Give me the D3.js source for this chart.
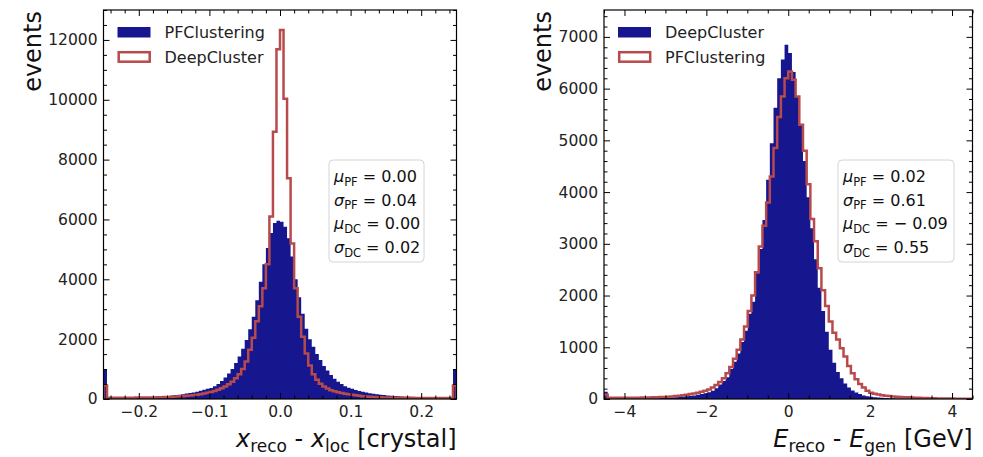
<!DOCTYPE html>
<html><head><meta charset="utf-8">
<script src="https://cdn.jsdelivr.net/npm/d3@7"></script>
<style>
body{margin:0;background:#fff}
text{font-family:"DejaVu Sans",sans-serif}
</style>
</head><body>
<svg id="c" width="983" height="457"></svg>
<script>
// ---------- DATA ----------
// Left panel: position residual, 100 bins over [-0.25, 0.25]
const posBinRange = [-0.25, 0.25];
const posPF = [
 1000, 42, 40, 41, 42, 42, 43, 45, 45, 48,
 50, 53, 57, 62, 68, 75, 82, 90, 100, 115,
 130, 145, 160, 180, 200, 220, 245, 275, 310, 340,
 370, 430, 500, 600, 720, 850, 1000, 1200, 1420, 1680,
 1970, 2330, 2750, 3300, 3920, 4500, 5050, 5550, 5880, 5960,
 5920, 5760, 5370, 4760, 4000, 3400, 2850, 2350, 2000, 1750,
 1500, 1300, 1100, 950, 800, 680, 580, 500, 430, 380,
 340, 300, 270, 240, 215, 195, 175, 160, 145, 132,
 120, 110, 100, 92, 85, 78, 72, 66, 62, 58,
 55, 52, 50, 48, 46, 44, 43, 42, 40, 1000];
const posDC = [
 450, 42, 40, 40, 42, 42, 43, 44, 45, 46,
 47, 48, 50, 52, 54, 57, 60, 63, 68, 74,
 80, 88, 95, 105, 115, 128, 142, 160, 180, 205,
 235, 270, 310, 360, 420, 490, 580, 690, 830, 1000,
 1250, 1650, 2050, 2600, 3100, 3700, 4500, 6100, 8930, 11690,
 12330, 10030, 7375, 5200, 3700, 2750, 2080, 1520, 1120, 830,
 640, 510, 420, 350, 295, 255, 225, 200, 175, 155,
 138, 122, 108, 95, 82, 72, 65, 60, 55, 51,
 48, 46, 44, 42, 41, 40, 39, 38, 37, 36,
 35, 35, 34, 34, 33, 33, 32, 32, 32, 450];
const posXTicks = [-0.2, -0.1, 0.0, 0.1, 0.2];
const posXTickLabels = ["\u22120.2", "\u22120.1", "0.0", "0.1", "0.2"];
const posYTicks = [0, 2000, 4000, 6000, 8000, 10000, 12000];
const posLegend = ["PFClustering", "DeepCluster"];
const posStats = [["\u03bc","PF","0.00"],["\u03c3","PF","0.04"],["\u03bc","DC","0.00"],["\u03c3","DC","0.02"]];

// Right panel: energy residual, 100 bins over [-4.5, 4.5]
const enBinRange = [-4.5, 4.5];
const enDC = [
 140, 5, 5, 6, 6, 7, 7, 8, 9, 10,
 11, 12, 13, 14, 16, 18, 21, 25, 29, 34,
 40, 47, 55, 62, 70, 80, 95, 110, 130, 160,
 210, 280, 350, 420, 580, 720, 880, 1100, 1320, 1650,
 1880, 2430, 2900, 3460, 4240, 4945, 5630, 6200, 6565, 6850,
 6690, 6320, 5850, 5300, 4600, 3900, 3300, 2700, 2150, 1700,
 1300, 950, 700, 520, 400, 300, 220, 165, 125, 95,
 70, 55, 42, 33, 27, 22, 18, 15, 13, 11,
 10, 9, 8, 7, 6, 6, 5, 5, 4, 4,
 4, 3, 3, 3, 2, 2, 2, 2, 2, 2];
const enPF = [
 80, 22, 22, 23, 23, 24, 24, 25, 25, 26,
 27, 28, 30, 32, 34, 37, 40, 45, 50, 56,
 63, 72, 82, 95, 108, 122, 140, 160, 185, 220,
 270, 330, 400, 500, 620, 780, 950, 1150, 1400, 1700,
 2000, 2450, 2950, 3350, 3800, 4300, 4850, 5450, 5850, 6200,
 6330, 6170, 5850, 5300, 4800, 4150, 3480, 3050, 2530, 2100,
 1800, 1500, 1280, 1150, 980, 820, 640, 500, 380, 290,
 220, 160, 120, 100, 85, 72, 63, 56, 50, 45,
 40, 36, 32, 28, 25, 22, 20, 18, 16, 14,
 12, 11, 10, 9, 8, 7, 6, 6, 5, 5];
const enXTicks = [-4, -2, 0, 2, 4];
const enXTickLabels = ["\u22124", "\u22122", "0", "2", "4"];
const enYTicks = [0, 1000, 2000, 3000, 4000, 5000, 6000, 7000];
const enLegend = ["DeepCluster", "PFClustering"];
const enStats = [["\u03bc","PF","0.02"],["\u03c3","PF","0.61"],["\u03bc","DC","\u2212 0.09"],["\u03c3","DC","0.55"]];

// ---------- DRAWING ----------
const FILL = "#16168e", LINE = "#b84a4c";
const svg = d3.select("#c");

function panel(o) {
  const g = svg.append("g");
  const x = d3.scaleLinear().domain(o.binRange).range([o.left, o.right]);
  const y = d3.scaleLinear().domain([0, o.yMax]).range([o.bottom, o.top]);
  const n = o.fill.length;
  const edges = d3.range(n + 1).map(i => o.binRange[0] + (o.binRange[1] - o.binRange[0]) * i / n);
  const pts = vals => {
    const p = [[edges[0], 0]];
    vals.forEach((v, i) => p.push([edges[i], v]));
    p.push([edges[n], vals[n - 1]]);
    p.push([edges[n], 0]);
    return p;
  };
  const line = d3.line().x(d => x(d[0])).y(d => y(d[1])).curve(d3.curveStepAfter);
  const cid = "clip" + o.id;
  svg.append("clipPath").attr("id", cid).append("rect")
    .attr("x", o.left).attr("y", o.top).attr("width", o.right - o.left).attr("height", o.bottom - o.top);
  const plot = g.append("g").attr("clip-path", `url(#${cid})`);
  plot.append("path").attr("d", line(pts(o.fill)) + "Z").attr("fill", FILL).attr("stroke", "none");
  plot.append("path").attr("d", line(pts(o.step))).attr("fill", "none").attr("stroke", LINE)
    .attr("stroke-width", 2.5).attr("stroke-linejoin", "miter");

  // axes
  const fmt = d => o.xLabels[o.xTicks.indexOf(d)];
  const styleAxis = sel => {
    sel.select(".domain").remove();
    sel.selectAll(".tick line").attr("stroke", "#000").attr("stroke-width", 1);
    sel.selectAll("text").attr("font-size", 15.5).attr("fill", "#222")
      .style("font-family", '"DejaVu Sans",sans-serif');
  };
  const minorsX = o.xMinor.filter(v => !o.xTicks.some(t => Math.abs(t - v) < 1e-9));
  const minorsY = o.yMinor.filter(v => !o.yTicks.some(t => Math.abs(t - v) < 1e-9));
  g.append("g").attr("transform", `translate(0,${o.bottom})`)
    .call(d3.axisBottom(x).tickValues(o.xTicks).tickFormat(fmt).tickSize(-6).tickPadding(7)).call(styleAxis);
  g.append("g").attr("transform", `translate(0,${o.bottom})`)
    .call(d3.axisBottom(x).tickValues(minorsX).tickFormat("").tickSize(-3.5)).call(styleAxis);
  g.append("g").attr("transform", `translate(0,${o.top})`)
    .call(d3.axisTop(x).tickValues(o.xTicks).tickFormat("").tickSize(-6)).call(styleAxis);
  g.append("g").attr("transform", `translate(0,${o.top})`)
    .call(d3.axisTop(x).tickValues(minorsX).tickFormat("").tickSize(-3.5)).call(styleAxis);
  g.append("g").attr("transform", `translate(${o.left},0)`)
    .call(d3.axisLeft(y).tickValues(o.yTicks).tickFormat(d3.format("d")).tickSize(-6).tickPadding(6)).call(styleAxis);
  g.append("g").attr("transform", `translate(${o.left},0)`)
    .call(d3.axisLeft(y).tickValues(minorsY).tickFormat("").tickSize(-3.5)).call(styleAxis);
  g.append("g").attr("transform", `translate(${o.right},0)`)
    .call(d3.axisRight(y).tickValues(o.yTicks).tickFormat("").tickSize(-6)).call(styleAxis);
  g.append("g").attr("transform", `translate(${o.right},0)`)
    .call(d3.axisRight(y).tickValues(minorsY).tickFormat("").tickSize(-3.5)).call(styleAxis);

  g.append("rect").attr("x", o.left).attr("y", o.top).attr("width", o.right - o.left)
    .attr("height", o.bottom - o.top).attr("fill", "none").attr("stroke", "#000").attr("stroke-width", 1.2);

  // y label (aligned to top of axes)
  g.append("text").attr("transform", `translate(${o.yLabelX},${o.top + 1}) rotate(-90)`)
    .attr("text-anchor", "end").attr("font-size", 24).attr("fill", "#111").text("events");

  // x label
  const xl = g.append("text").attr("x", o.right).attr("y", 447).attr("text-anchor", "end")
    .attr("font-size", 24).attr("fill", "#111");
  o.xTitle.forEach(p => {
    const t = xl.append("tspan").text(p.t);
    if (p.i) t.attr("font-style", "italic");
    if (p.sub) t.attr("font-size", 17).attr("dy", 5);
    if (p.up) t.attr("dy", -5);
  });

  // legend
  const lx = o.left + 14;
  g.append("rect").attr("x", lx).attr("y", 27).attr("width", 33).attr("height", 10.5).attr("fill", FILL);
  g.append("rect").attr("x", lx + 1.2).attr("y", 52.2).attr("width", 31).attr("height", 9.5)
    .attr("fill", "none").attr("stroke", LINE).attr("stroke-width", 2.5);
  o.legend.forEach((s, i) => g.append("text").attr("x", lx + 47).attr("y", 38 + 24.5 * i)
    .attr("font-size", 16).attr("fill", "#222").text(s));

  // stats box
  g.append("rect").attr("x", o.box[0]).attr("y", 160).attr("width", o.box[1]).attr("height", 102)
    .attr("rx", 4).attr("fill", "#fff").attr("fill-opacity", 0.8).attr("stroke", "#d4d4d4").attr("stroke-width", 1);
  o.stats.forEach((s, i) => {
    const t = g.append("text").attr("x", o.box[0] + 5).attr("y", 182 + 23.7 * i).attr("font-size", 16).attr("fill", "#111");
    t.append("tspan").attr("font-style", "italic").text(s[0]);
    t.append("tspan").attr("font-size", 11.5).attr("dy", 3.5).text(s[1]);
    t.append("tspan").attr("dy", -3.5).text(" = " + s[2]);
  });
}

const r = (a, b, s) => d3.range(Math.round((b - a) / s) + 1).map(i => +(a + i * s).toFixed(6));

panel({
  id: "pos", left: 103.5, right: 456.5, top: 10, bottom: 399, yMax: 13000, yLabelX: 41,
  binRange: posBinRange, fill: posPF, step: posDC,
  xTicks: posXTicks, xLabels: posXTickLabels, xMinor: r(-0.24, 0.24, 0.02),
  yTicks: posYTicks, yMinor: r(0, 13000, 500),
  legend: posLegend, stats: posStats, box: [329, 95],
  xTitle: [{t: "x", i: 1}, {t: "reco", sub: 1}, {t: " - ", up: 1}, {t: "x", i: 1}, {t: "loc", sub: 1}, {t: " [crystal]", up: 1}]
});
panel({
  id: "en", left: 604, right: 972.5, top: 10, bottom: 399, yMax: 7520, yLabelX: 551,
  binRange: enBinRange, fill: enDC, step: enPF,
  xTicks: enXTicks, xLabels: enXTickLabels, xMinor: r(-4.5, 4.5, 0.5),
  yTicks: enYTicks, yMinor: r(0, 7400, 200),
  legend: enLegend, stats: enStats, box: [838, 116],
  xTitle: [{t: "E", i: 1}, {t: "reco", sub: 1}, {t: " - ", up: 1}, {t: "E", i: 1}, {t: "gen", sub: 1}, {t: " [GeV]", up: 1}]
});
</script>
</body></html>
